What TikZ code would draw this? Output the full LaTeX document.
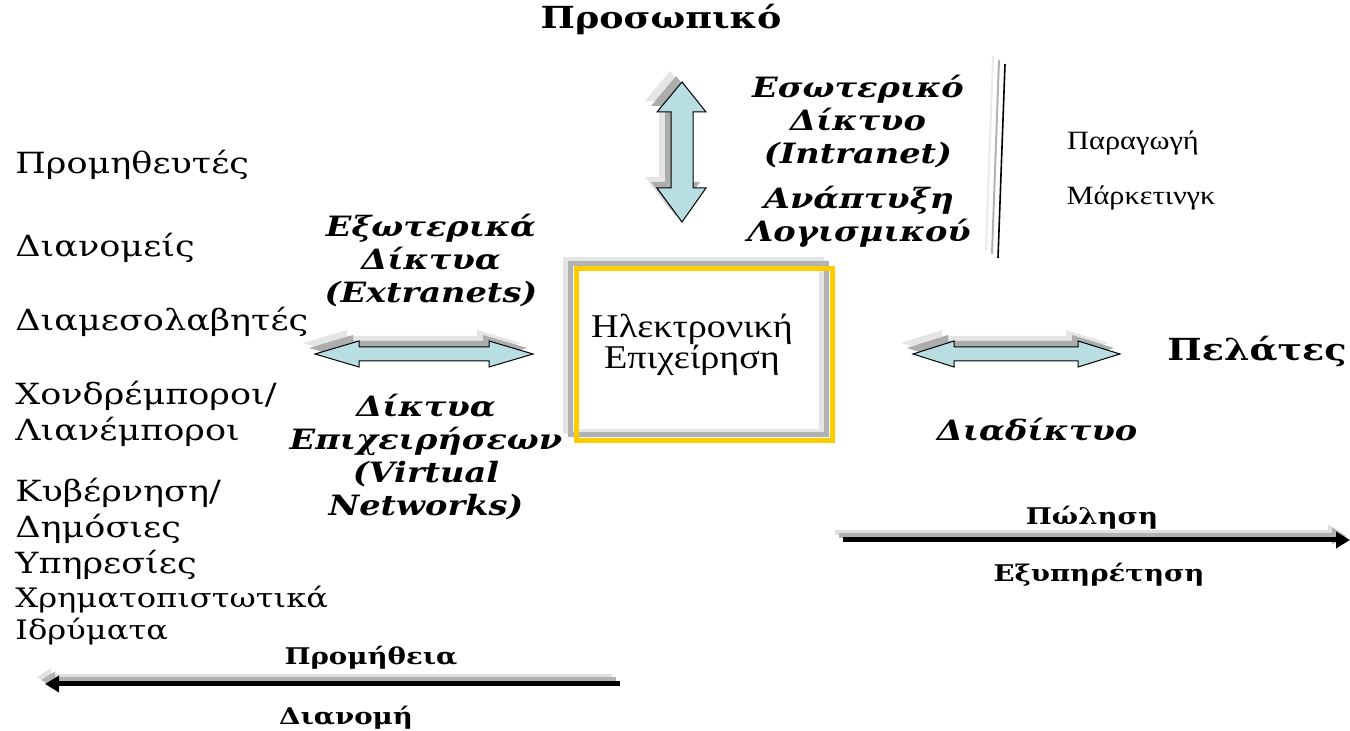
\documentclass[tikz,border=0pt]{standalone}
\usepackage{fontspec}
\usetikzlibrary{arrows.meta}
\newfontfamily\bk[FakeStretch=1.2]{DejaVu Serif}
\newfontfamily\tm[FakeStretch=1.15]{Liberation Serif}
\definecolor{arrowfill}{RGB}{184,222,226}
\definecolor{boxyellow}{RGB}{255,204,0}
\tikzset{
  lbl/.style={inner sep=0pt, font=\bk\fontsize{14.6}{18}\selectfont, align=left, anchor=west},
  lblsmall/.style={inner sep=0pt, font=\bk\fontsize{13.4}{16}\selectfont, align=left, anchor=west},
  netlbl/.style={inner sep=0pt, font=\bk\bfseries\itshape\fontsize{14}{16.5}\selectfont, align=center},
  headlbl/.style={inner sep=0pt, font=\bk\bfseries\fontsize{15.2}{17}\selectfont},
  flowlbl/.style={inner sep=0pt, font=\bk\bfseries\fontsize{11.5}{13}\selectfont},
  deptlbl/.style={inner sep=0pt, font=\tm\fontsize{13.2}{15}\selectfont},
  boxtext/.style={inner sep=0pt, font=\tm\fontsize{16.6}{15.5}\selectfont, align=center},
  blockarrow/.style={fill=arrowfill, draw=black, line width=0.5pt, line join=miter},
  shdark/.style={fill=black!32},
  shlight/.style={fill=black!10},
  flowline/.style={line width=2.5pt, -{Triangle[length=7pt,width=8pt]}},
}
\begin{document}
\begin{tikzpicture}[x=0.5pt,y=-0.5pt]
\useasboundingbox (0,0) rectangle (1350,731);

% ---------- block arrows (with shadows) ----------
\def\vpath{(682,82) -- (706,112) -- (693,112) -- (693,188) -- (706,188) -- (682,222) -- (657,188) -- (671,188) -- (671,112) -- (657,112) -- cycle}
\def\lpath{(315,354) -- (359,341) -- (359,347) -- (489,347) -- (489,341) -- (533,354) -- (489,367) -- (489,361) -- (359,361) -- (359,367) -- cycle}
\def\rpath{(913,354) -- (954,341) -- (954,347) -- (1078,347) -- (1078,341) -- (1120,354) -- (1078,367) -- (1078,361) -- (954,361) -- (954,367) -- cycle}
\foreach \p in {\vpath,\lpath,\rpath}{
  \path[shlight, shift={(-12,-11)}] \p;
  \path[shdark, shift={(-6,-6)}] \p;
  \path[blockarrow] \p;
}

% ---------- central box ----------
\draw[black!10, line width=2.5pt] (565.5,259.5) rectangle (821.5,431.5);
\draw[black!30, line width=2.5pt] (570.5,263.5) rectangle (826.5,434.5);
\node[draw=boxyellow, line width=2.5pt, minimum width=128pt, minimum height=86pt, inner sep=0pt] (box) at (704.5,354.5) {};
\node[boxtext] (ebiz) at (692,345) {Ηλεκτρονική\\Επιχείρηση};

% ---------- vertical divider ----------
\coordinate (d1) at (1005,64);
\coordinate (d2) at (998,258);
\draw[black!8, line width=1pt] ([shift={(-12,-8)}]d1) -- ([shift={(-12,-8)}]d2);
\draw[black!30, line width=1pt] ([shift={(-6,-4)}]d1) -- ([shift={(-6,-4)}]d2);
\draw[black, line width=0.8pt] (d1) -- (d2);

% ---------- headings ----------
\node[headlbl] (staff) at (661,20) {Προσωπικό};
\node[headlbl] (cust) at (1257,352) {Πελάτες};

% ---------- network labels ----------
\node[netlbl] (intra) at (858,121) {Εσωτερικό\\Δίκτυο\\(Intranet)};
\node[netlbl] (dev) at (859,217) {Ανάπτυξη\\Λογισμικού};
\node[netlbl] (extra) at (431,260) {Εξωτερικά\\Δίκτυα\\(Extranets)};
\node[netlbl] (virt) at (426,457) {Δίκτυα\\Επιχειρήσεων\\(Virtual\\Networks)};
\node[netlbl] (inet) at (1037,430) {Διαδίκτυο};

% ---------- departments ----------
\node[deptlbl] (prod) at (1133,143) {Παραγωγή};
\node[deptlbl] (mkt) at (1141,198) {Μάρκετινγκ};

% ---------- partners list ----------
\node[lbl] (sup) at (15,165) {Προμηθευτές};
\node[lbl] (dist) at (15,248) {Διανομείς};
\node[lbl] (inter) at (15,322) {Διαμεσολαβητές};
\node[lbl] (whole) at (15,414) {Χονδρέμποροι/\\Λιανέμποροι};
\node[lbl] (gov) at (15,529) {Κυβέρνηση/\\Δημόσιες\\Υπηρεσίες};
\node[lblsmall] (fin) at (15,616) {Χρηματοπιστωτικά\\Ιδρύματα};

% ---------- flow arrows ----------
\coordinate (s1) at (843,540);
\coordinate (s2) at (1350,540);
\draw[flowline, black!12] ([shift={(-8,-7)}]s1) -- ([shift={(-8,-7)}]s2);
\draw[flowline, black!30] ([shift={(-4,-4)}]s1) -- ([shift={(-4,-4)}]s2);
\draw[flowline, black] (s1) -- (s2);
\node[flowlbl] (sell) at (1092,518) {Πώληση};
\node[flowlbl] (serv) at (1099,575) {Εξυπηρέτηση};

\coordinate (p1) at (620,684);
\coordinate (p2) at (45,684);
\draw[flowline, black!12] ([shift={(-8,-7)}]p1) -- ([shift={(-8,-7)}]p2);
\draw[flowline, black!30] ([shift={(-4,-4)}]p1) -- ([shift={(-4,-4)}]p2);
\draw[flowline, black] (p1) -- (p2);
\node[flowlbl] (procure) at (371,658) {Προμήθεια};
\node[flowlbl] (distr) at (346,718) {Διανομή};
\end{tikzpicture}
\end{document}
